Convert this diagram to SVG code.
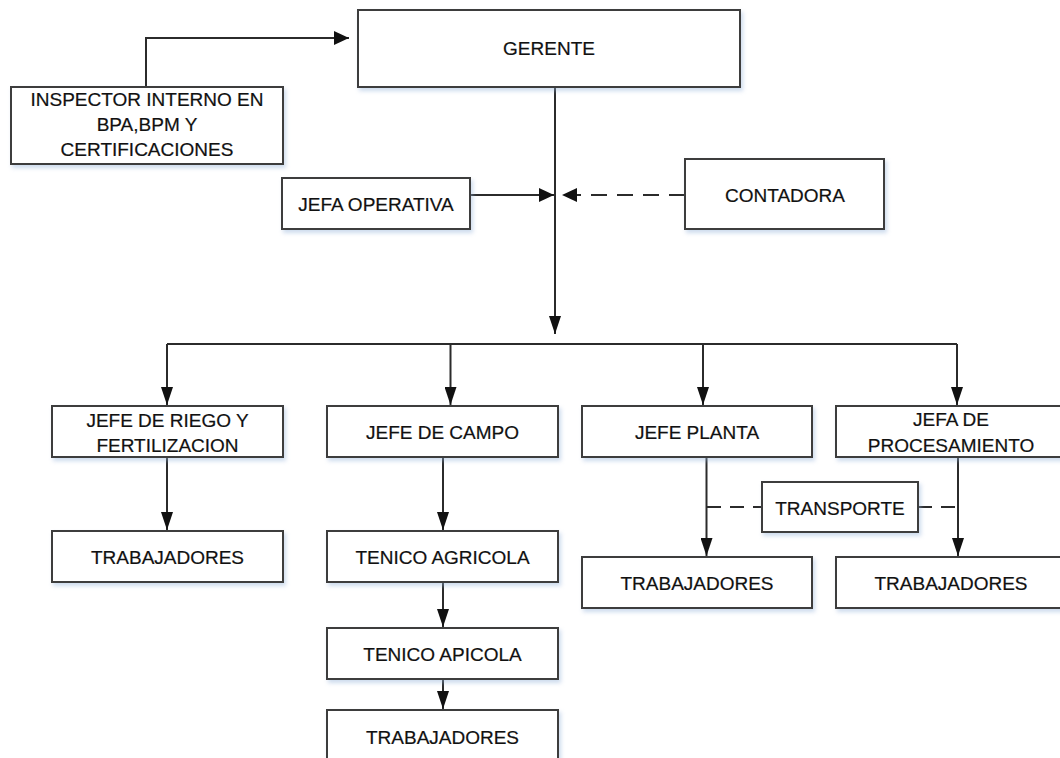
<svg xmlns="http://www.w3.org/2000/svg" width="1060" height="758" viewBox="0 0 1060 758">
<style>
.box{fill:#ffffff;stroke:#3c3c3c;stroke-width:2;filter:url(#sh)}
.t{font-family:"Liberation Sans",Arial,sans-serif;font-size:19px;fill:#111111;stroke:#111111;stroke-width:0.2;text-anchor:middle}
.ln{fill:none;stroke:#2b2b2b;stroke-width:2}
.dash{fill:none;stroke:#2b2b2b;stroke-width:2;stroke-dasharray:16 10}
.dash2{fill:none;stroke:#2b2b2b;stroke-width:2;stroke-dasharray:14 9}
</style>
<defs>
<filter id="sh" x="-10%" y="-10%" width="130%" height="140%">
<feDropShadow dx="2" dy="3" stdDeviation="2" flood-color="#8fb0d8" flood-opacity="0.45"/>
</filter>
<marker id="av" markerUnits="userSpaceOnUse" markerWidth="18" markerHeight="12" refX="18" refY="6" orient="auto">
<path d="M0,0 L18,6 L0,12 z" fill="#111"/>
</marker>
<marker id="ah" markerUnits="userSpaceOnUse" markerWidth="15" markerHeight="14" refX="15" refY="7" orient="auto">
<path d="M0,0 L15,7 L0,14 z" fill="#111"/>
</marker>
</defs>
<rect width="1060" height="758" fill="#ffffff"/>

<g id="connectors">
<path class="ln" d="M146,87 V38 H349" marker-end="url(#ah)"/>
<path class="ln" d="M555,87 V334" marker-end="url(#av)"/>
<path class="ln" d="M470,195 H554" marker-end="url(#ah)"/>
<path class="dash" d="M685,195 H562" marker-end="url(#ah)"/>
<path class="ln" d="M167,344 H957"/>
<path class="ln" d="M167,344 V405" marker-end="url(#av)"/>
<path class="ln" d="M450.5,344 V405" marker-end="url(#av)"/>
<path class="ln" d="M703,344 V405" marker-end="url(#av)"/>
<path class="ln" d="M957,344 V405" marker-end="url(#av)"/>
<path class="ln" d="M167,457 V530" marker-end="url(#av)"/>
<path class="ln" d="M443,457 V530" marker-end="url(#av)"/>
<path class="ln" d="M443,582 V627" marker-end="url(#av)"/>
<path class="ln" d="M443,679 V709" marker-end="url(#av)"/>
<path class="ln" d="M706.5,457 V556" marker-end="url(#av)"/>
<path class="ln" d="M958,457 V556" marker-end="url(#av)"/>
<path class="dash2" d="M707,507 H762"/>
<path class="dash2" d="M918,507 H958"/>
</g>

<g id="gerente"><rect class="box" x="358" y="10" width="382" height="77"/><text class="t" x="549" y="55">GERENTE</text></g>
<g id="inspector"><rect class="box" x="11" y="87" width="272" height="77"/>
<text class="t" x="147" y="106">INSPECTOR INTERNO EN</text>
<text class="t" x="147" y="131">BPA,BPM Y</text>
<text class="t" x="147" y="156">CERTIFICACIONES</text></g>
<g id="jefa-operativa"><rect class="box" x="282" y="178" width="188" height="51"/><text class="t" x="376" y="211">JEFA OPERATIVA</text></g>
<g id="contadora"><rect class="box" x="685" y="159" width="199" height="70"/><text class="t" x="785" y="202">CONTADORA</text></g>

<g id="jefe-riego"><rect class="box" x="52" y="406" width="231" height="51"/>
<text class="t" x="167.5" y="427">JEFE DE RIEGO Y</text>
<text class="t" x="167.5" y="452">FERTILIZACION</text></g>
<g id="jefe-campo"><rect class="box" x="327" y="406" width="231" height="51"/><text class="t" x="442.5" y="439">JEFE DE CAMPO</text></g>
<g id="jefe-planta"><rect class="box" x="582" y="406" width="230" height="51"/><text class="t" x="697" y="439">JEFE PLANTA</text></g>
<g id="jefa-procesamiento"><rect class="box" x="836" y="406" width="231" height="51"/>
<text class="t" x="951" y="426">JEFA DE</text>
<text class="t" x="951" y="452">PROCESAMIENTO</text></g>

<g id="trabajadores-riego"><rect class="box" x="52" y="531" width="231" height="51"/><text class="t" x="167.5" y="564">TRABAJADORES</text></g>
<g id="tecnico-agricola"><rect class="box" x="327" y="531" width="231" height="51"/><text class="t" x="442.5" y="564">TENICO AGRICOLA</text></g>
<g id="tecnico-apicola"><rect class="box" x="327" y="628" width="231" height="51"/><text class="t" x="442.5" y="661">TENICO APICOLA</text></g>
<g id="trabajadores-campo"><rect class="box" x="327" y="710" width="231" height="60"/><text class="t" x="442.5" y="744">TRABAJADORES</text></g>
<g id="transporte"><rect class="box" x="762" y="482" width="156" height="50"/><text class="t" x="840" y="515">TRANSPORTE</text></g>
<g id="trabajadores-planta"><rect class="box" x="582" y="557" width="230" height="51"/><text class="t" x="697" y="590">TRABAJADORES</text></g>
<g id="trabajadores-procesamiento"><rect class="box" x="836" y="557" width="231" height="51"/><text class="t" x="951" y="590">TRABAJADORES</text></g>
</svg>
